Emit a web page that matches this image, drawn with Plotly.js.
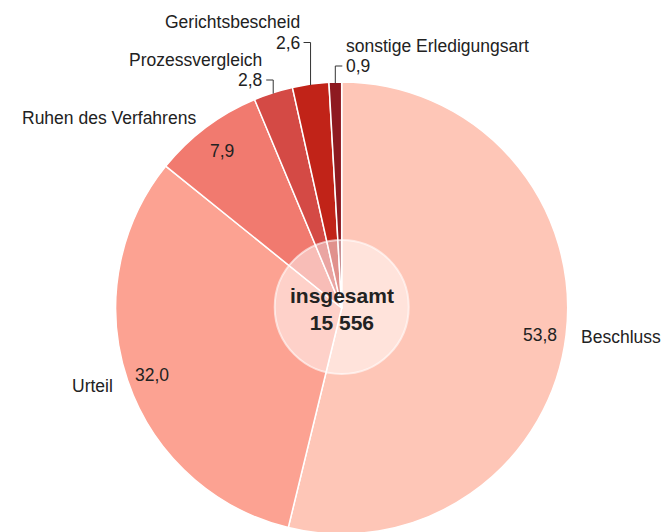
<!DOCTYPE html>
<html>
<head>
<meta charset="utf-8">
<script src="https://cdn.plot.ly/plotly-3.0.1.min.js"></script>
<style>
  html, body { margin: 0; padding: 0; overflow: hidden; background: #fff; }
</style>
</head>
<body>
<div id="chart"></div>
<script>
// data
var categories = ["Beschluss", "Urteil", "Ruhen des Verfahrens", "Prozessvergleich", "Gerichtsbescheid", "sonstige Erledigungsart"];
var shares = [53.8, 32.0, 7.9, 2.8, 2.6, 0.9];
var valueLabels = ["53,8", "32,0", "7,9", "2,8", "2,6", "0,9"];
var totalLabel = "15 556";

var colors = ["#fec6b7", "#fca292", "#f17a6f", "#d44a45", "#c12318", "#8e1a20"];

// page size and pie placement (pixels)
var W = 666, H = 540;
var cx = 341.7, cy = 308, R = 226;
// leader line heights (pixel y) for the small slices, and which side the text goes
var leaderTop = {"Prozessvergleich": 80, "Gerichtsbescheid": 42.5, "sonstige Erledigungsart": 66};
var leaderSide = {"Prozessvergleich": -1, "Gerichtsbescheid": -1, "sonstige Erledigungsart": 1};

function px(x) { return x / W; }
function py(y) { return 1 - y / H; }

var txtFont = {family: "Liberation Sans, Arial, sans-serif", size: 17.5, color: "#222"};

var total = 0;
shares.forEach(function (v) { total += v; });

var annotations = [];
var shapes = [];
var cum = 0;
for (var i = 0; i < shares.length; i++) {
    var a0 = cum / total * 360;
    cum += shares[i];
    var a1 = cum / total * 360;
    var mid = (a0 + a1) / 2 * Math.PI / 180;
    var s = Math.sin(mid), c = Math.cos(mid);
    var name = categories[i];
    if (leaderTop[name] === undefined) {
        // value inside, name just outside
        var rv = R * 0.885;
        annotations.push({x: px(cx + rv * s), y: py(cy - rv * c + 3), xref: "paper", yref: "paper",
            text: valueLabels[i], showarrow: false, font: txtFont, xanchor: "center", yanchor: "middle"});
        var rn = R + 13;
        annotations.push({x: px(cx + rn * s), y: py(cy - rn * c + 1), xref: "paper", yref: "paper",
            text: name, showarrow: false, font: txtFont, xanchor: s > 0 ? "left" : "right", yanchor: "middle"});
    } else {
        var ex = cx + R * s, ey = cy - R * c;
        var yTop = leaderTop[name], side = leaderSide[name];
        var hx = ex + side * 7;
        shapes.push({type: "path", xref: "paper", yref: "paper",
            path: "M " + px(ex) + "," + py(ey + 1) + " L " + px(ex) + "," + py(yTop) + " L " + px(hx) + "," + py(yTop),
            line: {color: "#333", width: 1}});
        var anch = side > 0 ? "left" : "right";
        annotations.push({x: px(hx + side * 2), y: py(yTop), xref: "paper", yref: "paper",
            text: valueLabels[i], showarrow: false, font: txtFont, xanchor: anch, yanchor: "middle"});
        annotations.push({x: px(hx + side * 2), y: py(yTop - 20), xref: "paper", yref: "paper",
            text: name, showarrow: false, font: txtFont, xanchor: anch, yanchor: "middle"});
    }
}

// translucent centre disc with the total
var rc = 67;
shapes.push({type: "circle", xref: "paper", yref: "paper", layer: "above",
    x0: px(cx - rc), x1: px(cx + rc), y0: py(cy + rc - 1), y1: py(cy - rc - 1),
    fillcolor: "rgba(255,255,255,0.5)", line: {color: "rgba(255,255,255,0.6)", width: 2}});
annotations.push({x: px(cx), y: py(cy + 1), xref: "paper", yref: "paper",
    text: "<b>insgesamt<br>" + totalLabel + "</b>", showarrow: false,
    font: {family: "Liberation Sans, Arial, sans-serif", size: 21, color: "#222"},
    xanchor: "center", yanchor: "middle"});

var trace = {
    type: "pie",
    labels: categories,
    values: shares,
    sort: false,
    direction: "clockwise",
    rotation: 0,
    textinfo: "none",
    hoverinfo: "label+value",
    marker: {colors: colors, line: {color: "#fff", width: 1.5}},
    domain: {x: [px(cx - R), px(cx + R)], y: [py(cy + R), py(cy - R)]},
    showlegend: false
};

var layout = {
    width: W,
    height: H,
    margin: {l: 0, r: 0, t: 0, b: 0},
    paper_bgcolor: "#fff",
    annotations: annotations,
    shapes: shapes
};

Plotly.newPlot("chart", [trace], layout, {displayModeBar: false, staticPlot: true});
</script>
</body>
</html>
